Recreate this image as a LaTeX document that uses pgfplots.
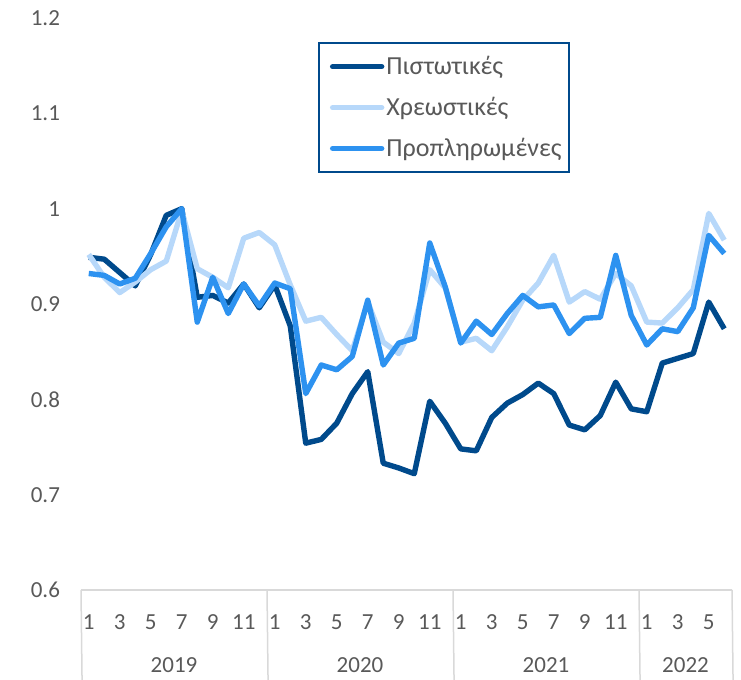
\documentclass[border=0pt]{standalone}
\usepackage{pgfplots}
\pgfplotsset{compat=1.18}
\usepackage{fontspec}
\setmainfont{Carlito}
\definecolor{cdark}{RGB}{0,74,140}
\definecolor{clight}{RGB}{183,216,250}
\definecolor{cmed}{RGB}{45,146,240}
\definecolor{ctext}{RGB}{89,89,89}
\definecolor{cgrid}{RGB}{217,217,217}
\newcommand{\lblfont}{\fontsize{11.5}{13}\selectfont}
\newcommand{\legfont}{\fontsize{13}{15}\selectfont}
\begin{document}
\begin{tikzpicture}
\begin{axis}[
  scale only axis, width=325.5pt, height=286pt,
  xmin=-0.5, xmax=41.5, ymin=0.6, ymax=1.2,
  axis x line*=bottom, axis y line*=left,
  axis line style={draw=none},
  major tick length=0pt,
  ytick={0.6,0.7,0.8,0.9,1,1.1,1.2},
  yticklabels={0.6,0.7,0.8,0.9,1,1.1,1.2},
  xtick={0,2,4,6,8,10,12,14,16,18,20,22,24,26,28,30,32,34,36,38,40},
  xticklabels={1,3,5,7,9,11,1,3,5,7,9,11,1,3,5,7,9,11,1,3,5},
  ticklabel style={font=\lblfont, text=ctext},
  xticklabel style={anchor=center, yshift=-16pt},
  yticklabel style={anchor=east, xshift=-7pt},
  clip=false,
  legend cell align=left,
  legend style={at={(0.364,0.958)}, anchor=north west, draw=cdark, line width=1pt,
    font=\legfont, text=ctext, row sep=7.8pt, inner xsep=3pt, inner ysep=5.5pt,
    nodes={inner xsep=1pt, inner ysep=1pt}},
  legend image code/.code={\path (0pt,0pt); \draw[#1, line cap=round] (2.5pt,0pt) -- (27pt,0pt);},
]
\addplot[cdark, line width=2.7pt, line join=round] coordinates {
(0,0.949) (1,0.947) (2,0.933) (3,0.919) (4,0.952) (5,0.993) (6,1.000) (7,0.907)
(8,0.909) (9,0.901) (10,0.921) (11,0.896) (12,0.920) (13,0.877) (14,0.754) (15,0.758)
(16,0.775) (17,0.806) (18,0.829) (19,0.733) (20,0.728) (21,0.722) (22,0.798) (23,0.775)
(24,0.748) (25,0.746) (26,0.781) (27,0.796) (28,0.805) (29,0.817) (30,0.806) (31,0.773)
(32,0.768) (33,0.783) (34,0.818) (35,0.790) (36,0.787) (37,0.838) (38,0.843) (39,0.848)
(40,0.902) (41,0.874)};
\addlegendentry{Πιστωτικές}
\addplot[clight, line width=2.7pt, line join=round] coordinates {
(0,0.952) (1,0.928) (2,0.912) (3,0.923) (4,0.936) (5,0.945) (6,0.998) (7,0.937)
(8,0.928) (9,0.917) (10,0.969) (11,0.975) (12,0.962) (13,0.920) (14,0.882) (15,0.886)
(16,0.868) (17,0.851) (18,0.902) (19,0.860) (20,0.848) (21,0.880) (22,0.936) (23,0.917)
(24,0.860) (25,0.864) (26,0.851) (27,0.876) (28,0.904) (29,0.922) (30,0.951) (31,0.902)
(32,0.913) (33,0.905) (34,0.932) (35,0.919) (36,0.881) (37,0.880) (38,0.896) (39,0.915)
(40,0.995) (41,0.967)};
\addlegendentry{Χρεωστικές}
\addplot[cmed, line width=2.7pt, line join=round] coordinates {
(0,0.932) (1,0.930) (2,0.921) (3,0.927) (4,0.953) (5,0.981) (6,1.000) (7,0.881)
(8,0.928) (9,0.890) (10,0.921) (11,0.898) (12,0.922) (13,0.916) (14,0.806) (15,0.836)
(16,0.831) (17,0.845) (18,0.904) (19,0.836) (20,0.859) (21,0.864) (22,0.964) (23,0.918)
(24,0.859) (25,0.882) (26,0.868) (27,0.890) (28,0.909) (29,0.897) (30,0.899) (31,0.869)
(32,0.885) (33,0.886) (34,0.951) (35,0.888) (36,0.857) (37,0.874) (38,0.871) (39,0.896)
(40,0.972) (41,0.953)};
\addlegendentry{Προπληρωμένες}
\draw[cgrid, line width=0.75pt] (axis cs:-0.5,0.6) -- (axis cs:41.5,0.6);
\draw[cgrid, line width=0.75pt] (axis cs:-0.5,0.6) -- ++(0,-45pt);
\draw[cgrid, line width=0.75pt] (axis cs:11.5,0.6) -- ++(0,-45pt);
\draw[cgrid, line width=0.75pt] (axis cs:23.5,0.6) -- ++(0,-45pt);
\draw[cgrid, line width=0.75pt] (axis cs:35.5,0.6) -- ++(0,-45pt);
\draw[cgrid, line width=0.75pt] (axis cs:41.5,0.6) -- ++(0,-45pt);
\node[font=\lblfont, text=ctext] at ([yshift=-37.5pt]axis cs:5.5,0.6) {2019};
\node[font=\lblfont, text=ctext] at ([yshift=-37.5pt]axis cs:17.5,0.6) {2020};
\node[font=\lblfont, text=ctext] at ([yshift=-37.5pt]axis cs:29.5,0.6) {2021};
\node[font=\lblfont, text=ctext] at ([yshift=-37.5pt]axis cs:38.5,0.6) {2022};
\coordinate (bl) at (rel axis cs:0,0);
\coordinate (tr) at (rel axis cs:1,1);
\end{axis}
\pgfresetboundingbox
\path ([shift={(-40.5pt,-45pt)}]bl) rectangle ([shift={(4.5pt,9pt)}]tr);
\end{tikzpicture}
\end{document}
